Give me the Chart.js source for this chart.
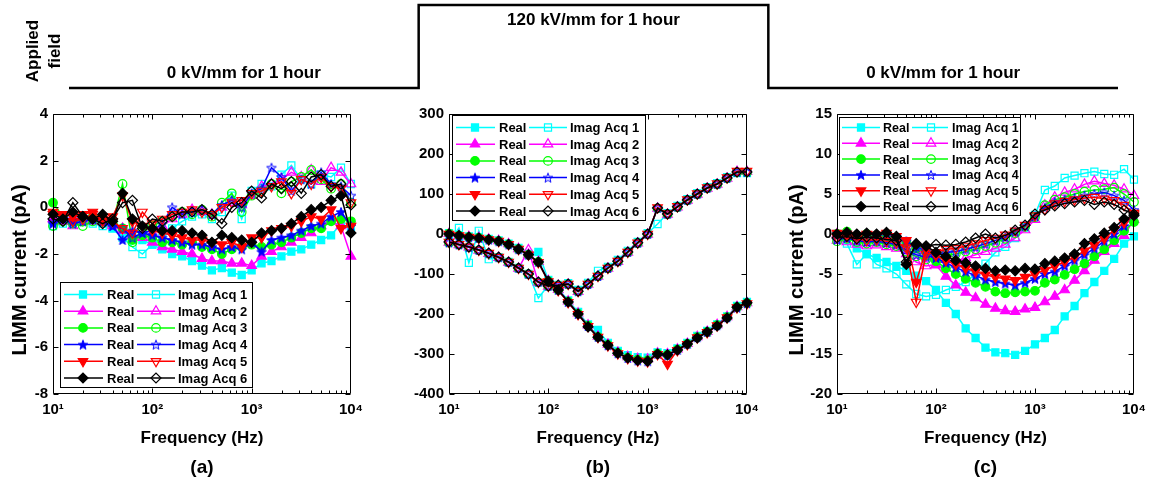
<!DOCTYPE html>
<html><head><meta charset="utf-8">
<script src="https://cdn.jsdelivr.net/npm/chart.js@4.4.1/dist/chart.umd.min.js"></script>
<style>
html,body{margin:0;padding:0;background:#fff;}
#wrap{position:relative;width:1153px;height:480px;overflow:hidden;background:#fff;}
canvas{position:absolute;}
</style></head><body>
<div id="wrap">
<canvas id="cTop" width="1153" height="100" style="left:0;top:0"></canvas>
<canvas id="cA" width="370" height="380" style="left:0;top:100px"></canvas>
<canvas id="cB" width="370" height="380" style="left:396px;top:100px"></canvas>
<canvas id="cC" width="369" height="380" style="left:784px;top:100px"></canvas>
</div>
<script>
// ---------- data ----------
const freqHz = [10,12.59,15.85,19.95,25.12,31.62,39.81,50.12,63.1,79.43,100,125.9,158.5,199.5,251.2,316.2,398.1,501.2,631,794.3,1000,1259,1585,1995,2512,3162,3981,5012,6310,7943,10000];
const xTickValues = [10,100,1000,10000];
const xTickLabels = ['10\u00B9','10\u00B2','10\u00B3','10\u2074'];
const realLabel = 'Real';
const imagLabels = ['Imag Acq 1','Imag Acq 2','Imag Acq 3','Imag Acq 4','Imag Acq 5','Imag Acq 6'];
const panelLabels = ['(a)','(b)','(c)'];
const yTitle = 'LIMM current (pA)';
const xTitle = 'Frequency (Hz)';

const fieldHours = [0,1,2,3];
const fieldKV = [0,120,0,0];
const fieldLabels = ['0 kV/mm for 1 hour','120 kV/mm for 1 hour','0 kV/mm for 1 hour'];

// panel (a)
const aRe1 = [-0.6,-0.5,-0.7,-0.5,-0.6,-0.7,-0.9,-1.2,-1.3,-1.4,-1.6,-1.8,-2.0,-2.1,-2.3,-2.5,-2.7,-2.6,-2.8,-2.9,-2.7,-2.4,-2.3,-2.1,-1.9,-1.8,-1.6,-1.4,-1.2,-0.7,-0.9];
const aRe2 = [-0.5,-0.6,-0.4,-0.6,-0.5,-0.6,-0.8,-1.0,-1.2,-1.3,-1.5,-1.7,-1.8,-1.9,-2.0,-2.2,-2.3,-2.3,-2.4,-2.4,-2.5,-2.1,-1.9,-1.7,-1.5,-1.3,-1.1,-0.8,-0.6,-0.8,-2.1];
const aRe3 = [0.2,-0.4,-0.6,-0.5,-0.4,-0.6,-0.7,-0.9,-1.4,-1.2,-1.3,-1.5,-1.5,-1.6,-1.5,-1.7,-1.8,-2.0,-1.8,-1.7,-1.6,-1.7,-1.6,-1.5,-1.3,-1.1,-0.9,-0.9,-0.6,-0.5,-0.6];
const aRe4 = [-0.7,-0.5,-0.6,-0.4,-0.5,-0.6,-0.8,-1.4,-1.0,-1.1,-1.2,-1.3,-1.4,-1.5,-1.6,-1.6,-1.7,-1.8,-1.7,-1.8,-1.5,-1.9,-1.4,-1.3,-1.2,-1.0,-0.8,-0.7,-0.4,-0.2,-0.8];
const aRe5 = [-0.2,-0.3,-0.4,-0.3,-0.2,-0.5,-0.4,0.5,-0.6,-0.8,-1.0,-1.1,-1.2,-1.3,-1.4,-1.4,-1.5,-1.6,-1.5,-1.7,-1.3,-1.3,-1.0,-0.9,-0.8,-0.6,-0.4,-0.5,-0.1,-0.9,-0.8];
const aRe6 = [-0.3,-0.5,-0.2,-0.4,-0.5,-0.3,-0.6,0.6,-0.5,-0.8,-0.9,-1.0,-1.0,-1.0,-1.1,-1.2,-1.5,-1.2,-1.3,-1.4,-1.5,-1.1,-1.0,-0.9,-0.7,-0.4,-0.1,0.0,0.3,0.5,-1.1];
const aIm1 = [-0.8,-0.7,-0.5,-0.6,-0.7,-0.8,-0.9,-1.3,-1.7,-2.0,-1.6,-1.3,-0.9,-0.6,-0.4,-0.3,-0.5,-0.2,0.5,-0.5,0.7,1.0,0.9,1.4,1.8,1.2,1.0,1.4,1.3,1.7,1.0];
const aIm2 = [-0.5,-0.6,-0.8,-0.5,-0.6,-0.4,-0.7,-0.9,-1.2,-1.3,-1.1,-0.8,-0.5,-0.3,-0.1,-0.2,-0.3,0.0,0.2,0.1,0.5,0.9,1.0,1.2,1.5,1.3,1.6,1.1,1.7,1.5,1.0];
const aIm3 = [-0.8,-0.6,-0.7,-0.8,-0.6,-0.5,-0.7,1.0,-1.5,-1.0,-0.8,-0.6,-0.4,-0.2,-0.3,-0.1,-0.4,0.2,0.6,-0.2,0.5,0.7,1.0,0.6,1.1,1.3,1.6,1.2,0.8,1.0,0.2];
const aIm4 = [-0.6,-0.5,-0.7,-0.6,-0.5,-0.6,-0.8,-0.9,-1.3,-1.1,-1.0,-0.7,0.0,-0.3,-0.2,-0.1,-0.3,0.1,0.3,0.0,0.6,0.8,1.7,1.3,0.7,1.2,1.0,1.5,1.0,0.9,0.5];
const aIm5 = [-0.3,-0.4,-0.6,-0.5,-0.3,-0.6,-0.6,-0.9,-1.1,-0.2,-0.7,-0.5,-0.3,-0.2,-0.1,-0.2,-0.3,0.0,0.2,0.3,0.6,0.7,0.9,1.1,0.6,1.2,1.0,1.3,0.9,0.8,0.2];
const aIm6 = [-0.5,-0.6,0.2,-0.4,-0.5,-0.7,-0.5,0.2,0.3,-0.9,-0.5,-0.6,-0.4,-0.2,-0.2,-0.1,-0.3,-0.7,0.0,0.2,0.7,0.4,1.0,0.8,1.1,0.6,1.3,1.4,0.9,1.0,0.1];

// panel (b)
const bRe1 = [2,-3,-6,-8,-12,-16,-24,-35,-50,-45,-115,-137,-166,-195,-226,-240,-272,-292,-303,-308,-309,-296,-298,-286,-272,-255,-242,-226,-206,-180,-170];
const bRe2 = [1,-4,-7,-9,-13,-17,-25,-37,-51,-69,-117,-139,-168,-198,-228,-256,-276,-296,-307,-312,-313,-298,-300,-288,-274,-257,-244,-227,-207,-182,-172];
const bRe3 = [1,-4,-8,-10,-14,-18,-26,-38,-52,-70,-118,-140,-169,-199,-229,-257,-277,-297,-309,-314,-316,-299,-302,-289,-275,-258,-245,-228,-208,-183,-173];
const bRe4 = [0,-4,-8,-10,-14,-18,-26,-38,-52,-70,-118,-140,-170,-200,-230,-257,-278,-298,-310,-316,-318,-300,-304,-290,-275,-258,-245,-228,-208,-184,-173];
const bRe5 = [0,-4,-8,-10,-14,-18,-26,-38,-52,-71,-119,-141,-171,-201,-231,-258,-279,-299,-311,-317,-319,-301,-325,-291,-276,-259,-246,-229,-209,-184,-174];
const bRe6 = [0,-4,-8,-10,-14,-18,-26,-38,-52,-70,-118,-140,-170,-200,-232,-258,-278,-298,-310,-316,-318,-300,-302,-290,-275,-260,-245,-230,-210,-183,-172];
const bIm1 = [-20,15,-72,8,-63,-58,-70,-85,-100,-160,-128,-127,-123,-140,-122,-92,-82,-65,-42,-20,2,25,52,70,87,102,117,127,142,152,152];
const bIm2 = [-21,-27,-33,-41,-49,-59,-71,-86,-40,-121,-131,-129,-126,-144,-126,-106,-86,-69,-46,-23,-1,64,49,67,84,99,114,124,139,156,156];
const bIm3 = [-22,-27,-33,-41,-49,-59,-71,-86,-101,-121,-131,-129,-126,-144,-126,-106,-86,-69,-46,-23,-1,64,49,67,84,99,114,124,139,154,154];
const bIm4 = [-21,-26,-33,-40,-48,-58,-70,-85,-100,-120,-130,-128,-125,-143,-125,-105,-85,-68,-45,-22,0,65,50,68,85,100,115,125,140,155,155];
const bIm5 = [-20,-26,-32,-40,-48,-58,-70,-85,-100,-120,-130,-128,-125,-143,-125,-105,-85,-68,-45,-22,0,66,51,69,86,101,116,126,141,157,157];
const bIm6 = [-20,-26,-32,-40,-48,-58,-70,-85,-100,-120,-130,-128,-125,-143,-125,-105,-85,-68,-45,-22,0,65,50,68,85,100,115,125,140,155,155];

// panel (c)
const cRe1 = [0,-0.8,-1.8,-2.5,-3.0,-3.5,-4.0,-4.6,-5.2,-5.9,-7.0,-8.6,-10.0,-11.8,-13.0,-14.2,-14.8,-14.9,-15.1,-14.6,-13.8,-13.0,-12.0,-10.3,-9.0,-7.4,-6.0,-4.6,-3.1,-1.2,-0.3];
const cRe2 = [0,0.1,-0.3,-0.2,-0.4,-0.3,-0.6,-1.2,-2.0,-2.8,-3.9,-5.3,-6.4,-7.3,-8.0,-8.8,-9.3,-9.6,-9.7,-9.4,-9.2,-8.5,-7.8,-7.0,-5.8,-4.6,-3.3,-2.2,-1.2,-0.2,1.8];
const cRe3 = [0,0.3,-0.2,0,-0.3,-0.1,-0.5,-1.0,-1.8,-2.3,-3.4,-4.3,-5.0,-5.6,-6.1,-6.6,-7.2,-7.4,-7.3,-7.2,-7.1,-6.1,-5.7,-5.1,-4.4,-3.7,-2.8,-1.9,-0.8,0.4,1.5];
const cRe4 = [0,0.2,-0.1,0.1,-0.2,0,-0.4,-0.9,-1.6,-2.1,-3.0,-3.6,-4.2,-4.7,-5.2,-5.7,-6.0,-6.2,-6.4,-6.1,-5.6,-5.0,-4.7,-4.0,-3.3,-2.6,-1.8,-0.9,0,1.0,2.5];
const cRe5 = [0.1,0,-0.2,0,-0.1,0.1,-0.3,-0.8,-6.0,-1.9,-2.7,-3.3,-3.8,-4.3,-4.7,-5.1,-5.4,-5.6,-5.8,-5.4,-5.0,-4.5,-4.0,-3.5,-2.9,-2.1,-1.4,-0.6,0.5,1.4,2.4];
const cRe6 = [0,0.2,0,0.1,0,0.2,-0.3,-3.8,-1.2,-1.5,-2.3,-2.8,-3.3,-3.6,-4.0,-4.3,-4.6,-4.5,-4.6,-4.3,-4.4,-3.7,-3.4,-3.0,-2.5,-1.2,-0.6,0.1,0.8,1.9,2.3];
const cIm1 = [-0.5,-1.2,-3.8,-2.5,-3.8,-4.3,-5.0,-6.3,-7.5,-7.8,-7.6,-7.0,-6.6,-6.0,-5.0,-3.7,-2.3,-1.6,-0.5,0.8,2.4,5.5,6.0,7.0,7.3,7.6,7.8,7.5,7.4,8.1,6.8];
const cIm2 = [-0.8,-1.0,-1.3,-1.5,-1.4,-1.6,-1.8,-2.5,-3.5,-4.0,-3.8,-3.2,-3.4,-3.0,-2.6,-2.2,-1.8,-1.3,-0.5,0.5,1.8,3.6,4.6,5.2,5.6,6.2,6.6,6.3,6.1,5.6,4.8];
const cIm3 = [-0.9,-0.6,-1.0,-1.2,-1.0,-1.3,-1.5,-2.2,-2.8,-3.2,-3.0,-2.6,-2.5,-2.2,-1.9,-1.5,-1.1,-0.6,0.1,0.9,2.1,3.6,4.3,4.6,5.0,5.3,5.5,5.6,5.8,5.0,4.0];
const cIm4 = [-0.7,-0.5,-0.8,-1.0,-0.9,-1.1,-1.3,-2.0,-2.6,-2.9,-2.7,-2.3,-2.2,-1.9,-1.6,-1.2,-0.8,-0.4,0.3,1.0,2.2,3.3,4.0,4.3,4.5,4.8,5.0,5.2,4.8,4.2,3.0];
const cIm5 = [-0.4,-0.3,-0.6,-0.8,-0.7,-0.9,-1.1,-1.7,-8.5,-2.5,-2.3,-1.9,-1.8,-1.5,-1.2,-0.8,-0.5,-0.1,0.4,1.1,2.3,3.1,3.8,4.1,4.3,4.5,4.6,4.4,4.2,3.6,2.6];
const cIm6 = [-0.5,-0.3,-0.6,-0.4,-0.5,-0.7,-0.8,-3.5,-1.3,-1.5,-1.3,-1.4,-1.3,-1.0,-0.5,0.0,-0.5,-0.2,0.5,1.1,2.5,3.0,3.5,3.8,4.0,4.2,3.7,4.0,3.7,3.0,2.5];

const seriesColors = ['#00ffff','#ff00ff','#00ff00','#0000ff','#ff0000','#000000'];

// ---------- styling helpers ----------
const FONT = "'Liberation Sans', Arial, Helvetica, sans-serif";
Chart.defaults.font.family = FONT;
Chart.defaults.font.weight = 'bold';
Chart.defaults.color = '#000';

function makeStar(color, filled) {
  const s = 12, c = document.createElement('canvas');
  c.width = s; c.height = s;
  const g = c.getContext('2d');
  const R = 5, r = 2.1, cx = s/2, cy = s/2 + 0.5;
  g.beginPath();
  for (let i = 0; i < 10; i++) {
    const a = -Math.PI/2 + i*Math.PI/5, rr = (i % 2) ? r : R;
    g.lineTo(cx + rr*Math.cos(a), cy + rr*Math.sin(a));
  }
  g.closePath();
  if (filled) { g.fillStyle = color; g.fill(); }
  g.strokeStyle = color; g.lineWidth = 1; g.stroke();
  return c;
}

function markerFor(k, filled, color) {
  switch (k) {
    case 0: return {style:'rect', rot:0, r:5};
    case 1: return {style:'triangle', rot:0, r:5.5};
    case 2: return {style:'circle', rot:0, r:4.3};
    case 3: return {style: makeStar(color, filled), rot:0, r:5};
    case 4: return {style:'triangle', rot:180, r:5.5};
    default: return {style:'rectRot', rot:0, r:5};
  }
}

function buildDatasets(re, im) {
  const ds = [];
  for (let k = 0; k < 6; k++) {
    const col = seriesColors[k];
    [[re[k], true, realLabel], [im[k], false, imagLabels[k]]].forEach(([arr, filled, label]) => {
      const m = markerFor(k, filled, col);
      ds.push({
        label, data: freqHz.map((f, i) => ({x: f, y: arr[i]})),
        borderColor: col, backgroundColor: col, borderWidth: 1.5,
        pointStyle: m.style, pointRotation: m.rot, pointRadius: m.r, pointHoverRadius: m.r,
        pointBackgroundColor: filled ? col : 'rgba(0,0,0,0)', pointBorderColor: col, pointBorderWidth: 1.2,
        fill: false, tension: 0, clip: false, order: 100 - ds.length
      });
    });
  }
  return ds;
}

function drawMarker(ctx, ds, x, y) {
  ctx.save();
  ctx.fillStyle = ds.pointBackgroundColor;
  ctx.strokeStyle = ds.pointBorderColor;
  ctx.lineWidth = ds.pointBorderWidth;
  const st = ds.pointStyle;
  if (Chart.helpers && Chart.helpers.drawPoint) {
    Chart.helpers.drawPoint(ctx, {pointStyle: st, rotation: ds.pointRotation, radius: ds.pointRadius, borderWidth: ds.pointBorderWidth}, x, y);
  } else {
    const r = ds.pointRadius;
    ctx.beginPath();
    if (typeof st !== 'string') { ctx.drawImage(st, x - st.width/2, y - st.height/2); ctx.restore(); return; }
    if (st === 'circle') ctx.arc(x, y, r, 0, Math.PI*2);
    else if (st === 'rect') { const s = r*Math.SQRT1_2; ctx.rect(x-s, y-s, 2*s, 2*s); }
    else if (st === 'rectRot') { ctx.moveTo(x, y-r); ctx.lineTo(x+r, y); ctx.lineTo(x, y+r); ctx.lineTo(x-r, y); ctx.closePath(); }
    else if (st === 'triangle') {
      let a = ds.pointRotation*Math.PI/180;
      ctx.moveTo(x + Math.sin(a)*r, y - Math.cos(a)*r);
      a += 2*Math.PI/3; ctx.lineTo(x + Math.sin(a)*r, y - Math.cos(a)*r);
      a += 2*Math.PI/3; ctx.lineTo(x + Math.sin(a)*r, y - Math.cos(a)*r);
      ctx.closePath();
    }
    ctx.fill(); ctx.stroke();
  }
  ctx.restore();
}

// decorations: box, inner ticks, legend, y title, panel label
const panelDeco = {
  id: 'panelDeco',
  afterDraw(chart, args, o) {
    const ctx = chart.ctx, ca = chart.chartArea;
    const xs = chart.scales.x, ys = chart.scales.y;
    ctx.save();
    ctx.strokeStyle = '#000'; ctx.lineWidth = 1;
    const L = Math.round(ca.left) + 0.5, R = Math.round(ca.right) - 0.5;
    const T = Math.round(ca.top) + 0.5, B = Math.round(ca.bottom) - 0.5;
    ctx.beginPath();
    ctx.rect(L, T, R - L, B - T);
    // x ticks (log): majors and minors
    for (let d = 10; d < 10000; d *= 10) {
      for (let m = 1; m < 10; m++) {
        const px = Math.round(xs.getPixelForValue(d*m)) + 0.5;
        const len = m === 1 ? 5 : 3;
        ctx.moveTo(px, B); ctx.lineTo(px, B - len);
        ctx.moveTo(px, T); ctx.lineTo(px, T + len);
      }
    }
    // y ticks
    ys.ticks.forEach(t => {
      const py = Math.round(ys.getPixelForValue(t.value)) + 0.5;
      ctx.moveTo(L, py); ctx.lineTo(L + 5, py);
      ctx.moveTo(R, py); ctx.lineTo(R - 5, py);
    });
    ctx.stroke();

    // legend
    const lg = o.legend;
    const bx = ca.left + lg.dx;
    const by = lg.fromBottom ? ca.bottom - lg.dy - lg.h : ca.top + lg.dy;
    ctx.fillStyle = '#fff';
    ctx.fillRect(bx, by, lg.w, lg.h);
    ctx.strokeStyle = '#000'; ctx.lineWidth = 1;
    ctx.strokeRect(Math.round(bx) + 0.5, Math.round(by) + 0.5, lg.w, lg.h);
    ctx.font = 'bold ' + lg.font + 'px ' + FONT;
    ctx.textBaseline = 'middle'; ctx.textAlign = 'left';
    const dsets = chart.data.datasets;
    for (let k = 0; k < 6; k++) {
      const ry = by + lg.first + k*lg.step;
      [[dsets[2*k], lg.colA], [dsets[2*k+1], lg.colB]].forEach(([ds, c]) => {
        ctx.strokeStyle = ds.borderColor; ctx.lineWidth = 1.5;
        ctx.beginPath(); ctx.moveTo(bx + c[0], ry); ctx.lineTo(bx + c[1], ry); ctx.stroke();
        drawMarker(ctx, ds, bx + c[2], ry);
        ctx.fillStyle = '#000';
        ctx.fillText(ds.label, bx + c[3], ry + 1);
      });
    }

    // y title
    if (o.yTitle) {
      ctx.save();
      ctx.translate(o.yTitle.x, o.yTitle.y);
      ctx.rotate(-Math.PI/2);
      ctx.font = 'bold 20px ' + FONT;
      ctx.textAlign = 'center'; ctx.textBaseline = 'middle'; ctx.fillStyle = '#000';
      ctx.fillText(yTitle, 0, 0);
      ctx.restore();
    }
    // panel label
    ctx.font = 'bold 19px ' + FONT;
    ctx.textAlign = 'center'; ctx.textBaseline = 'middle'; ctx.fillStyle = '#000';
    ctx.fillText(o.label, (ca.left + ca.right)/2, o.labelY);
    ctx.restore();
  }
};

function makePanel(id, re, im, yMin, yMax, yStep, padR, deco) {
  return new Chart(document.getElementById(id), {
    type: 'line',
    data: {datasets: buildDatasets(re, im)},
    options: {
      responsive: false, animation: false, events: [],
      layout: {padding: {left: 0, right: padR, top: 12, bottom: 0}},
      plugins: {legend: {display: false}, tooltip: {enabled: false}, panelDeco: deco},
      scales: {
        x: {
          type: 'logarithmic', min: 10, max: 10000,
          grid: {display: false, drawTicks: false}, border: {display: false},
          afterBuildTicks: ax => { ax.ticks = xTickValues.map(v => ({value: v})); },
          afterFit: ax => { ax.height = 86; },
          ticks: {autoSkip: false, maxRotation: 0, padding: 7, color: '#000', font: {size: 15, weight: 'bold'},
            callback: v => { const i = xTickValues.indexOf(v); return i >= 0 ? xTickLabels[i] : ''; }},
          title: {display: true, text: xTitle, color: '#000', font: {size: 17, weight: 'bold'}, padding: {top: 0, bottom: 31}}
        },
        y: {
          min: yMin, max: yMax,
          grid: {display: false, drawTicks: false}, border: {display: false},
          afterFit: ax => { ax.width = 53; },
          ticks: {stepSize: yStep, padding: 5, color: '#000', font: {size: 15, weight: 'bold'}}
        }
      }
    },
    plugins: [panelDeco]
  });
}

const legendAB = {w: 192, h: 105, first: 12.5, step: 16.7, font: 13,
  colA: [4, 43, 23, 47], colB: [77, 115, 96, 118]};

makePanel('cA', [aRe1,aRe2,aRe3,aRe4,aRe5,aRe6], [aIm1,aIm2,aIm3,aIm4,aIm5,aIm6], -8, 4, 2, 16, {
  legend: Object.assign({}, legendAB, {dx: 7, dy: 7, fromBottom: true}),
  yTitle: {x: 20, y: 170}, label: panelLabels[0], labelY: 368
});
makePanel('cB', [bRe1,bRe2,bRe3,bRe4,bRe5,bRe6], [bIm1,bIm2,bIm3,bIm4,bIm5,bIm6], -400, 300, 100, 16, {
  legend: Object.assign({}, legendAB, {dx: 3, dy: 1, fromBottom: false, w: 193}),
  yTitle: null, label: panelLabels[1], labelY: 368
});
makePanel('cC', [cRe1,cRe2,cRe3,cRe4,cRe5,cRe6], [cIm1,cIm2,cIm3,cIm4,cIm5,cIm6], -20, 15, 5, 15, {
  legend: {dx: 2, dy: 3, fromBottom: false, w: 181, h: 98, first: 10.5, step: 15.8, font: 12.5,
    colA: [3, 41, 22, 44], colB: [73, 109, 92, 113]},
  yTitle: {x: 13, y: 170}, label: panelLabels[2], labelY: 368
});

// ---------- top "applied field" strip ----------
const fieldDeco = {
  id: 'fieldDeco',
  afterDraw(chart) {
    const ctx = chart.ctx, xs = chart.scales.x, ys = chart.scales.y;
    ctx.save();
    ctx.fillStyle = '#000';
    ctx.font = 'bold 17px ' + FONT;
    ctx.textAlign = 'center'; ctx.textBaseline = 'middle';
    fieldLabels.forEach((t, i) => {
      const lvl = fieldKV[i];
      const py = ys.getPixelForValue(lvl) + (lvl > 0 ? 15 : -15);
      ctx.fillText(t, xs.getPixelForValue(fieldHours[i] + 0.5), py);
    });
    ctx.translate(44, 51);
    ctx.rotate(-Math.PI/2);
    ctx.fillText('Applied', 0, -11);
    ctx.fillText('field', 0, 11);
    ctx.restore();
  }
};

new Chart(document.getElementById('cTop'), {
  type: 'line',
  data: {datasets: [{
    label: 'Applied field (kV/mm)',
    data: fieldHours.map((h, i) => ({x: h, y: fieldKV[i]})),
    stepped: 'before', borderColor: '#000', borderWidth: 2.5, pointRadius: 0,
    borderJoinStyle: 'miter', borderCapStyle: 'butt', fill: false, clip: false
  }]},
  options: {
    responsive: false, animation: false, events: [],
    layout: {padding: {left: 69, right: 35, top: 5, bottom: 12}},
    plugins: {legend: {display: false}, tooltip: {enabled: false}},
    scales: {x: {type: 'linear', display: false, min: 0, max: 3}, y: {display: false, min: 0, max: 120}}
  },
  plugins: [fieldDeco]
});
</script>
</body></html>
